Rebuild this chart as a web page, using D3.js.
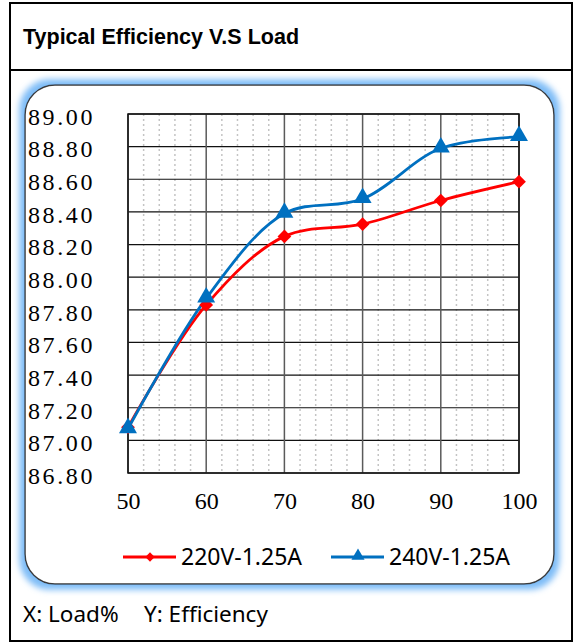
<!DOCTYPE html>
<html><head><meta charset="utf-8">
<script src="https://cdn.jsdelivr.net/npm/d3@7"></script>
<style>body{margin:0;background:#fff}svg{display:block}</style>
</head><body>
<script>
const loads = [50, 60, 70, 80, 90, 100];
const eff220 = [87.08, 87.83, 88.25, 88.325, 88.47, 88.585];
const eff240 = [87.07, 87.87, 88.39, 88.48, 88.79, 88.86];
const yTicks = [86.8, 87.0, 87.2, 87.4, 87.6, 87.8, 88.0, 88.2, 88.4, 88.6, 88.8, 89.0];
const xMinor = [52,54,56,58,62,64,66,68,72,74,76,78,82,84,86,88,92,94,96,98];
const seriesNames = ["220V-1.25A", "240V-1.25A"];
const titleText = "Typical Efficiency V.S Load";
const footText1 = "X: Load%", footText2 = "Y: Efficiency";

const W = 579, H = 643;
const svg = d3.select("body").append("svg").attr("width", W).attr("height", H);

const defs = svg.append("defs");
const f = defs.append("filter").attr("id","glow").attr("x","-10%").attr("y","-10%").attr("width","120%").attr("height","120%");
f.append("feMorphology").attr("in","SourceAlpha").attr("operator","dilate").attr("radius",5).attr("result","d");
f.append("feGaussianBlur").attr("in","d").attr("stdDeviation",3).attr("result","b");
f.append("feFlood").attr("flood-color","#7dbcf7").attr("result","c");
f.append("feComposite").attr("in","c").attr("in2","b").attr("operator","in").attr("result","g");
const m = f.append("feMerge");
m.append("feMergeNode").attr("in","g");
m.append("feMergeNode").attr("in","SourceGraphic");

// outer frame
svg.append("rect").attr("x",10).attr("y",3).attr("width",562).attr("height",638)
  .attr("fill","#fff").attr("stroke","#000").attr("stroke-width",2);
svg.append("line").attr("x1",10).attr("x2",572).attr("y1",70).attr("y2",70).attr("stroke","#000").attr("stroke-width",2);
svg.append("text").attr("x",23).attr("y",44).text(titleText)
  .attr("font-family","Liberation Sans, Arial, sans-serif").attr("font-weight","bold").attr("font-size",21.5).attr("fill","#000");

// panel
svg.append("rect").attr("x",25).attr("y",85).attr("width",529).attr("height",499).attr("rx",30).attr("ry",30)
  .attr("fill","#fff").attr("stroke","#3a3a3a").attr("stroke-width",1.5).attr("filter","url(#glow)");

// footer
const foot = svg.append("g").attr("font-family","Noto Sans, Open Sans, sans-serif").attr("font-size",22.5).attr("fill","#000");
foot.append("text").attr("x",23).attr("y",622).text(footText1);
foot.append("text").attr("x",144).attr("y",622).text(footText2);

// plot
const L = 128, R = 519, T = 114, B = 473;
const x = d3.scaleLinear().domain([50,100]).range([L,R]);
const y = d3.scaleLinear().domain([86.8,89.0]).range([B,T]);

const g = svg.append("g");
g.selectAll(".minor").data(xMinor).join("line")
  .attr("x1",d=>x(d)).attr("x2",d=>x(d)).attr("y1",T).attr("y2",B)
  .attr("stroke","#c4c4c4").attr("stroke-width",1.5).attr("stroke-dasharray","2,3");
g.selectAll(".hy").data(yTicks).join("line")
  .attr("x1",L).attr("x2",R).attr("y1",d=>y(d)).attr("y2",d=>y(d))
  .attr("stroke","#111").attr("stroke-width",1.2);
g.selectAll(".vx").data(loads).join("line")
  .attr("x1",d=>x(d)).attr("x2",d=>x(d)).attr("y1",T).attr("y2",B)
  .attr("stroke","#5a5a5a").attr("stroke-width",1.5);
g.append("rect").attr("x",L).attr("y",T).attr("width",R-L).attr("height",B-T)
  .attr("fill","none").attr("stroke","#111").attr("stroke-width",1.5);

// axes labels
const serif = "'Liberation Serif', 'DejaVu Serif', serif";
const fmt = d3.format(".2f");
const yAxis = d3.axisLeft(y).tickValues(yTicks).tickFormat(fmt).tickSize(0).tickPadding(0);
const ya = svg.append("g").attr("transform",`translate(95,0)`).call(yAxis).attr("font-family", serif);
ya.select(".domain").remove();
ya.selectAll("text").style("font-family", serif).style("font-size","24px")
  .attr("fill","#000").attr("letter-spacing","2.6px").attr("dy","0.43em");

const xAxis = d3.axisBottom(x).tickValues(loads).tickFormat(d3.format("d")).tickSize(0).tickPadding(0);
const xa = svg.append("g").attr("transform",`translate(0,${B+19})`).call(xAxis).attr("font-family", serif);
xa.select(".domain").remove();
xa.selectAll("text").style("font-family", serif).style("font-size","24px").attr("fill","#000").attr("dy","0.71em");

// series
const colors = ["#ff0000", "#0070c0"];
const data = [eff220, eff240];
const line = d3.line().x((d,i)=>x(loads[i])).y(d=>y(d)).curve(d3.curveCatmullRom.alpha(0.5));
const diamond = d3.symbol().type(d3.symbolDiamond2).size(120);
const triangle = d3.symbol().type(d3.symbolTriangle).size(140);
const symbols = [diamond, triangle];

data.forEach((vals, k) => {
  svg.append("path").attr("d", line(vals)).attr("fill","none").attr("stroke",colors[k]).attr("stroke-width",2.8);
});
data.forEach((vals, k) => {
  svg.selectAll(null).data(vals).join("path")
    .attr("transform",(d,i)=>`translate(${x(loads[i])},${y(d) + (k===1?-1:0)})`)
    .attr("d", symbols[k]()).attr("fill",colors[k]);
});

// legend
const legX = [123, 331];
seriesNames.forEach((name,k)=>{
  const lg = svg.append("g").attr("transform",`translate(${legX[k]},557)`);
  lg.append("line").attr("x1",0).attr("x2",53).attr("y1",0).attr("y2",0).attr("stroke",colors[k]).attr("stroke-width",2.8);
  lg.append("path").attr("transform",`translate(27,${k===1?-1:0})`).attr("d", (k===0? d3.symbol().type(d3.symbolDiamond2).size(55) : d3.symbol().type(d3.symbolTriangle).size(75))()).attr("fill",colors[k]);
  lg.append("text").attr("x",58).attr("y",8).text(name)
    .attr("font-family","Noto Sans, Open Sans, sans-serif").attr("font-size",23).attr("fill","#000");
});
</script>
</body></html>
